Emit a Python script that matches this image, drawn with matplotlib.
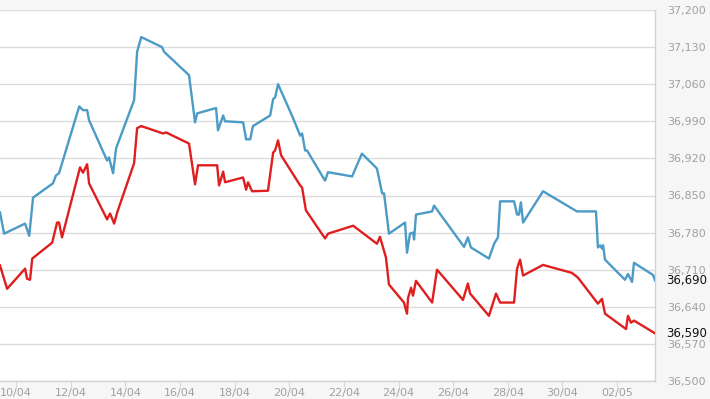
import matplotlib.pyplot as plt
import numpy as np

# days counted from 10/04
blue_days = [-0.59, -0.44, 0.33, 0.48, 0.62, 1.35, 1.46, 1.57, 2.31, 2.45, 2.60, 2.67,
             3.33, 3.40, 3.55, 3.66, 4.32, 4.43, 4.58, 5.34, 5.42, 6.33, 6.55, 6.63,
             7.32, 7.39, 7.58, 7.65, 8.31, 8.42, 8.57, 8.67, 9.30, 9.41, 9.48, 9.59,
             10.14, 10.40, 10.47, 10.58, 10.65, 11.31, 11.42, 12.30, 12.66, 13.21,
             13.40, 13.47, 13.65, 14.24, 14.31, 14.42, 14.53, 14.57, 14.64, 15.23,
             15.30, 16.40, 16.54, 16.65, 17.31, 17.50, 17.64, 17.72, 18.23, 18.34,
             18.41, 18.48, 18.56, 19.29, 20.53, 21.23, 21.30, 21.38, 21.45, 21.49,
             21.56, 22.29, 22.40, 22.55, 22.62, 23.32, 23.39]
blue_vals = [36818, 36778, 36797, 36774, 36846, 36873, 36888, 36892, 37018, 37011, 37011, 36992,
             36916, 36922, 36892, 36939, 37030, 37121, 37149, 37130, 37121, 37077, 36988, 37005,
             37015, 36973, 37001, 36990, 36988, 36956, 36956, 36981, 37001, 37032, 37035, 37060,
             36996, 36963, 36967, 36935, 36935, 36878, 36894, 36886, 36929, 36901,
             36854, 36854, 36778, 36799, 36742, 36778, 36780, 36767, 36814, 36820,
             36831, 36753, 36771, 36752, 36731, 36759, 36771, 36839, 36839, 36814,
             36814, 36837, 36799, 36858, 36820, 36820, 36752, 36756, 36750, 36756,
             36729, 36691, 36702, 36687, 36723, 36700, 36690]

red_days = [-0.59, -0.33, 0.33, 0.40, 0.51, 0.59, 1.32, 1.50, 1.57, 1.68, 2.34, 2.45,
            2.60, 2.67, 3.33, 3.44, 3.59, 3.70, 4.32, 4.43, 4.58, 5.38, 5.49, 6.33,
            6.55, 6.66, 7.36, 7.43, 7.58, 7.65, 8.31, 8.42, 8.49, 8.64, 9.22, 9.41,
            9.48, 9.59, 9.70, 10.40, 10.47, 10.61, 11.31, 11.42, 12.34, 13.21, 13.32,
            13.54, 13.65, 14.20, 14.31, 14.35, 14.46, 14.53, 14.64, 15.23, 15.41,
            16.36, 16.54, 16.62, 17.31, 17.57, 17.72, 18.23, 18.34, 18.45, 18.56,
            19.29, 20.35, 20.57, 21.30, 21.45, 21.56, 22.33, 22.40, 22.51, 22.62, 23.39]
red_vals = [36718, 36674, 36712, 36693, 36691, 36731, 36761, 36799, 36799, 36771, 36903, 36893,
            36909, 36873, 36805, 36816, 36797, 36818, 36911, 36977, 36981, 36967, 36969, 36948,
            36871, 36907, 36907, 36869, 36895, 36875, 36884, 36861, 36875, 36858, 36859, 36931,
            36935, 36954, 36926, 36869, 36865, 36822, 36769, 36778, 36793, 36759, 36772,
            36733, 36682, 36648, 36627, 36657, 36676, 36661, 36689, 36648, 36710,
            36653, 36684, 36665, 36623, 36665, 36648, 36648, 36712, 36729, 36699,
            36719, 36704, 36695, 36646, 36655, 36627, 36598, 36623, 36610, 36614, 36590]

x_labels = ['10/04', '12/04', '14/04', '16/04', '18/04', '20/04', '22/04',
            '24/04', '26/04', '28/04', '30/04', '02/05']
y_ticks = [36500, 36570, 36640, 36710, 36780, 36850, 36920, 36990, 37060, 37130, 37200]
last_blue = 36690
last_red = 36590

fig = plt.figure(figsize=(7.1, 3.99), dpi=100, facecolor='#f6f6f6')
ax = fig.add_axes([0, 18 / 399, 655 / 710, 371 / 399])
ax.set_facecolor('white')

ax.plot(blue_days, blue_vals, color='#4b9bc6', lw=1.7, zorder=3)
ax.plot(red_days, red_vals, color='#df1f1f', lw=1.7, zorder=3)

ax.set_xlim(-0.59, 23.39)
ax.set_ylim(36500, 37200)

ax.set_xticks(np.arange(0, 2 * len(x_labels), 2))
ax.set_xticklabels(x_labels)
ax.set_yticks(y_ticks)
ax.set_yticklabels([f'{v:,}' for v in y_ticks])
ax.yaxis.tick_right()
ax.tick_params(axis='y', length=0, pad=8.5, labelsize=8, labelcolor='#a0a0a0')
ax.tick_params(axis='x', length=4, width=0.8, color='#d8d8d8', pad=1,
               labelsize=8, labelcolor='#a0a0a0')
for lab in ax.get_yticklabels():
    lab.set_horizontalalignment('left')

ax.grid(axis='y', color='#dcdcdc', lw=1)
ax.set_axisbelow(True)
for side in ['left', 'top']:
    ax.spines[side].set_visible(False)
for side in ['bottom', 'right']:
    ax.spines[side].set_color('#cfd4da')
    ax.spines[side].set_linewidth(1)

for v in [last_blue, last_red]:
    ax.annotate(f'{v:,}', xy=(1, v), xycoords=('axes fraction', 'data'),
                xytext=(8, 0), textcoords='offset points', ha='left', va='center',
                fontsize=8.5, color='#111111')

fig.savefig('out.png', dpi=100, facecolor=fig.get_facecolor())
